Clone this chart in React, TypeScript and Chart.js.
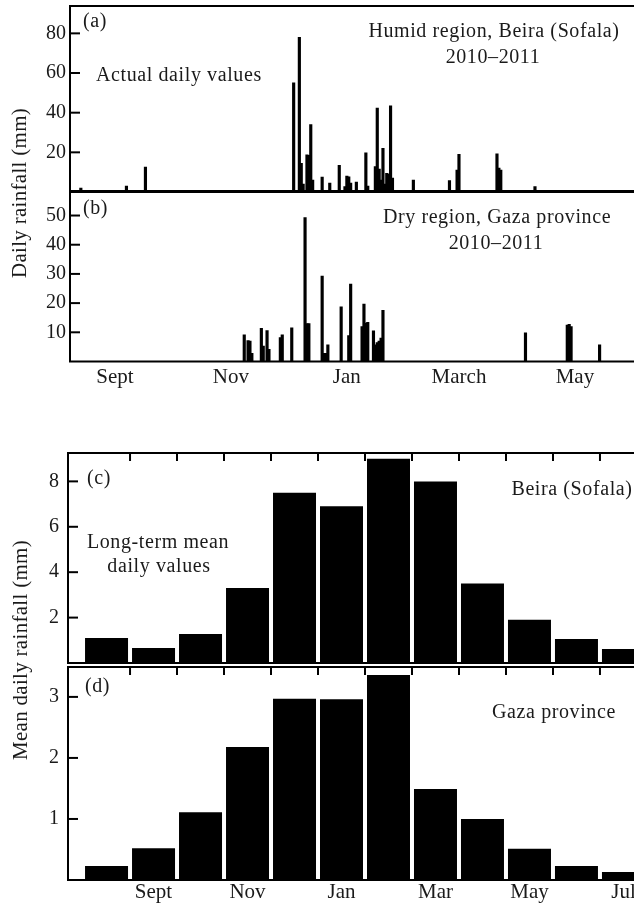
import React, { useEffect, useRef } from 'react';
import { Chart, registerables } from 'chart.js';

Chart.register(...registerables);

// ---- Data ----
// Daily rainfall, season 2010–2011; day index counted from 1 Aug 2010
const beiraDays = [13, 37, 47, 125, 128, 129, 130, 132, 133, 134, 135, 140, 144, 149, 152, 153, 154, 155, 158, 163, 164, 168, 169, 170, 171, 172, 173, 174, 175, 176, 177, 188, 207, 211, 212, 232, 233, 234, 252];
const beiraMm = [2, 3, 12.6, 55, 78, 14.5, 4, 18.7, 18.5, 34, 6, 7.5, 4.5, 13.5, 2.7, 8, 7.7, 4.5, 5, 19.8, 3, 12.8, 42.3, 11.6, 6, 22, 4, 9.4, 9, 43.4, 7, 6, 5.7, 11, 19, 19.2, 12, 11, 2.7];

const gazaDays = [99, 101, 102, 103, 108, 109, 111, 112, 118, 119, 124, 131, 132, 133, 140, 141, 142, 143, 150, 154, 155, 161, 162, 163, 164, 167, 168, 169, 170, 171, 172, 247, 269, 270, 271, 286];
const gazaMm = [9.1, 7.2, 7.0, 2.8, 11.4, 5.3, 10.6, 4.2, 8.2, 9.1, 11.5, 49.3, 13, 13, 29.3, 2.8, 2.8, 5.7, 18.7, 8.9, 26.5, 12, 19.7, 13.2, 13.4, 10.5, 5.7, 6.5, 7, 8, 17.5, 9.8, 12.5, 12.7, 12, 5.7];

const seasonTickDays = [31, 92, 153, 212, 273];
const seasonTickLabels = ['Sept', 'Nov', 'Jan', 'March', 'May'];

const months = ['Aug', 'Sept', 'Oct', 'Nov', 'Dec', 'Jan', 'Feb', 'Mar', 'Apr', 'May', 'Jun', 'Jul'];
const beiraMean = [1.1, 0.66, 1.28, 3.3, 7.5, 6.9, 9.0, 8.0, 3.5, 1.9, 1.06, 0.62];
const gazaMean = [0.23, 0.52, 1.11, 2.18, 2.97, 2.96, 3.36, 1.49, 1.0, 0.51, 0.23, 0.13];
const monthLabelIdx = [1, 3, 5, 7, 9, 11];

const dailyTicksA = [20, 40, 60, 80];
const dailyTicksB = [10, 20, 30, 40, 50];
const meanTicksC = [2, 4, 6, 8];
const meanTicksD = [1, 2, 3];

// ---- Styling ----
const FONT = 'Liberation Serif';
const INK = '#1a1a1a';

const framePlugin = {
  id: 'frame',
  afterDatasetsDraw(chart: any, _args: any, opts: any) {
    const { ctx, chartArea: a } = chart;
    ctx.save();
    ctx.strokeStyle = '#000';
    ctx.lineWidth = 2;
    ctx.strokeRect(a.left, a.top, a.right - a.left, a.bottom - a.top);
    (opts.marks || []).forEach((spec: any) => {
      const scale = chart.scales[spec.scale];
      spec.values.forEach((v: number) => {
        const p = scale.getPixelForValue(v);
        ctx.beginPath();
        if (spec.side === 'left') {
          ctx.moveTo(a.left, p);
          ctx.lineTo(a.left + spec.len, p);
        } else {
          ctx.moveTo(p, a.top);
          ctx.lineTo(p, a.top + spec.len);
        }
        ctx.stroke();
      });
    });
    ctx.restore();
  },
};

function yScale(max: number, ticks: number[], width: number, pad: number) {
  return {
    type: 'linear',
    min: 0,
    max,
    afterBuildTicks: (s: any) => {
      s.ticks = ticks.map((v) => ({ value: v }));
    },
    afterFit: (s: any) => {
      s.width = width;
      s.paddingTop = 0;
      s.paddingBottom = 0;
      s.paddingLeft = 0;
      s.paddingRight = 0;
    },
    grid: { display: false, drawTicks: false },
    border: { display: false },
    ticks: { color: INK, padding: pad, font: { family: FONT, size: 20 } },
  };
}

function xScale(min: number, max: number, tickVals: number[], label: (v: number) => string, show: boolean, h: number, pad: number) {
  return {
    type: 'linear',
    min,
    max,
    offset: false,
    display: show,
    afterBuildTicks: (s: any) => {
      s.ticks = tickVals.map((v) => ({ value: v }));
    },
    afterFit: (s: any) => {
      s.height = show ? h : 0;
      s.paddingLeft = 0;
      s.paddingRight = 0;
      s.paddingTop = 0;
      s.paddingBottom = 0;
    },
    grid: { display: false, drawTicks: false, offset: false },
    border: { display: false },
    ticks: {
      color: INK,
      padding: pad,
      maxRotation: 0,
      autoSkip: false,
      font: { family: FONT, size: 21 },
      callback: (v: number) => label(v),
    },
  };
}

function dailyConfig(days: number[], mm: number[], yMax: number, yTicks: number[], showX: boolean, padding: any) {
  return {
    type: 'bar',
    data: {
      datasets: [
        {
          data: days.map((d, i) => ({ x: d, y: mm[i] })),
          backgroundColor: '#000',
          borderWidth: 0,
          barThickness: 2.5,
          grouped: false,
        },
      ],
    },
    options: {
      responsive: false,
      animation: false,
      devicePixelRatio: 1,
      layout: { padding },
      plugins: {
        legend: { display: false },
        tooltip: { enabled: false },
        frame: { marks: [{ scale: 'y', side: 'left', len: 10, values: yTicks }] },
      },
      scales: {
        x: xScale(7.3, 340, seasonTickDays, (v) => seasonTickLabels[seasonTickDays.indexOf(v)] ?? '', showX, 30, 3),
        y: yScale(yMax, yTicks, 70, 4),
      },
    },
    plugins: [framePlugin],
  };
}

function meanConfig(values: number[], yMax: number, yTicks: number[], showX: boolean, padding: any) {
  const boundaries = months.slice(0, -1).map((_, i) => i + 0.5);
  return {
    type: 'bar',
    data: {
      datasets: [
        {
          data: values.map((v, i) => ({ x: i, y: v })),
          backgroundColor: '#000',
          borderWidth: 0,
          barPercentage: 0.915,
          categoryPercentage: 1,
          grouped: false,
        },
      ],
    },
    options: {
      responsive: false,
      animation: false,
      devicePixelRatio: 1,
      layout: { padding },
      plugins: {
        legend: { display: false },
        tooltip: { enabled: false },
        frame: {
          marks: [
            { scale: 'y', side: 'left', len: 10, values: yTicks },
            { scale: 'x', side: 'top', len: 8, values: boundaries },
          ],
        },
      },
      scales: {
        x: xScale(-0.82, 11.82, monthLabelIdx, (v) => months[v] ?? '', showX, 24, 0),
        y: yScale(yMax, yTicks, 68, 9),
      },
    },
    plugins: [framePlugin],
  };
}

function ChartCanvas({ left, top, width, height, make }: any) {
  const ref = useRef<HTMLCanvasElement | null>(null);
  useEffect(() => {
    const chart = new Chart(ref.current as any, make() as any);
    return () => chart.destroy();
  }, []);
  return (
    <canvas
      ref={ref}
      width={width}
      height={height}
      style={{ position: 'absolute', left, top, width, height, display: 'block' }}
    />
  );
}

const textBase: React.CSSProperties = {
  position: 'absolute',
  fontFamily: FONT,
  fontSize: 20,
  lineHeight: 1,
  color: INK,
  whiteSpace: 'nowrap',
  letterSpacing: '0.6px',
};

function Label({ x, y, center, children }: any) {
  return (
    <div style={{ ...textBase, left: x, top: y, transform: center ? 'translateX(-50%)' : undefined, textAlign: center ? 'center' : 'left' }}>
      {children}
    </div>
  );
}

function YTitle({ x, y, children }: any) {
  return (
    <div
      style={{
        ...textBase,
        fontSize: 21,
        letterSpacing: '0.3px',
        left: x,
        top: y,
        transform: 'translate(-50%, -50%) rotate(-90deg)',
      }}
    >
      {children}
    </div>
  );
}

export default function App() {
  const padA = { top: 6, bottom: 8, left: 0, right: 17.8 };
  const padB = { top: 6, bottom: 3.5, left: 0, right: 17.8 };
  const padC = { top: 13, bottom: 7, left: 0, right: 58 };
  const padD = { top: 7, bottom: 0, left: 0, right: 58 };
  return (
    <div style={{ position: 'absolute', left: 0, top: 0, width: 634, height: 904, overflow: 'hidden', background: '#fff' }}>
      <ChartCanvas left={0} top={0} width={720} height={200} make={() => dailyConfig(beiraDays, beiraMm, 93.8, dailyTicksA, false, padA)} />
      <ChartCanvas left={0} top={185} width={720} height={210} make={() => dailyConfig(gazaDays, gazaMm, 58.4, dailyTicksB, true, padB)} />
      <ChartCanvas left={0} top={440} width={720} height={230} make={() => meanConfig(beiraMean, 9.25, meanTicksC, false, padC)} />
      <ChartCanvas left={0} top={660} width={720} height={244} make={() => meanConfig(gazaMean, 3.49, meanTicksD, true, padD)} />

      <YTitle x={19} y={193}>Daily rainfall (mm)</YTitle>
      <YTitle x={20} y={650}>Mean daily rainfall (mm)</YTitle>

      <Label x={83} y={10}>(a)</Label>
      <Label x={96} y={64}>Actual daily values</Label>
      <Label x={494} y={20} center>Humid region, Beira (Sofala)</Label>
      <Label x={493} y={46} center>2010–2011</Label>

      <Label x={83} y={197}>(b)</Label>
      <Label x={497} y={206} center>Dry region, Gaza province</Label>
      <Label x={496} y={232} center>2010–2011</Label>

      <Label x={87} y={467}>(c)</Label>
      <Label x={572} y={478} center>Beira (Sofala)</Label>
      <Label x={158} y={531} center>Long-term mean</Label>
      <Label x={159} y={555} center>daily values</Label>

      <Label x={85} y={675}>(d)</Label>
      <Label x={554} y={701} center>Gaza province</Label>
    </div>
  );
}
